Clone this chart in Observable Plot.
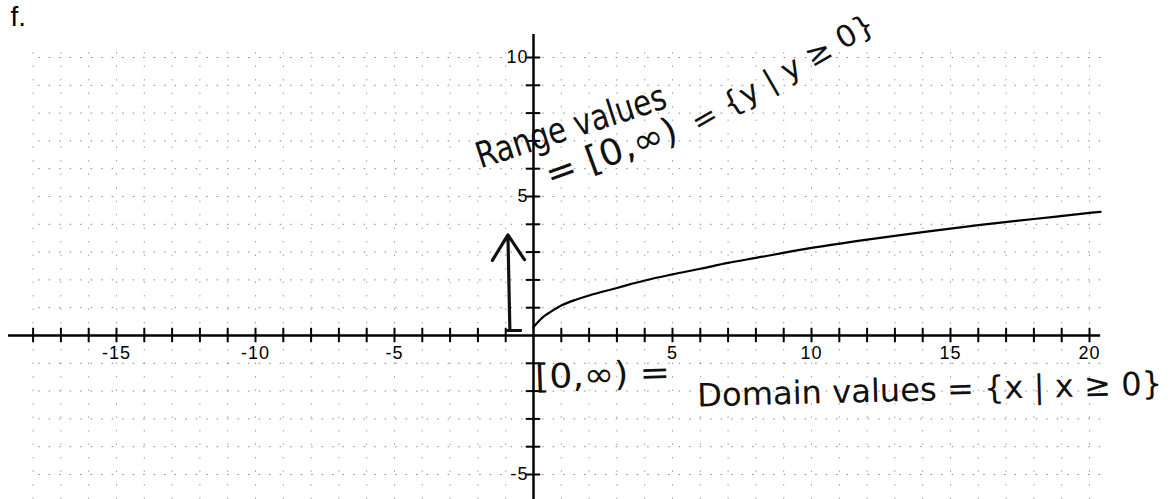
<!DOCTYPE html>
<html>
<head>
<meta charset="utf-8">
<script src="https://cdn.jsdelivr.net/npm/d3@7"></script>
<script src="https://cdn.jsdelivr.net/npm/@observablehq/plot@0.6"></script>
<style>
  html, body { margin: 0; padding: 0; background: #fff; }
  svg { display: block; }
  .ticklabel text { letter-spacing: 1px; }
</style>
</head>
<body>
<div id="chart"></div>
<script>
// ---- data ----
const curveX = [0, 0.12, 0.36, 0.6, 1, 1.5, 2, 3, 4, 5, 6, 7, 8, 10, 12, 14, 16, 18, 20, 20.4];
const curveY = [0.3, 0.44, 0.68, 0.84, 1.08, 1.28, 1.44, 1.71, 1.98, 2.2, 2.4, 2.61, 2.79, 3.15, 3.45, 3.72, 3.97, 4.19, 4.41, 4.45];

const xTicks = [-18,-17,-16,-15,-14,-13,-12,-11,-10,-9,-8,-7,-6,-5,-4,-3,-2,-1,1,2,3,4,5,6,7,8,9,10,11,12,13,14,15,16,17,18,19,20];
const yTicks = [-5,-4,-3,-2,-1,1,2,3,4,5,6,7,8,9,10];
const gridX = [-18,-17,-16,-15,-14,-13,-12,-11,-10,-9,-8,-7,-6,-5,-4,-3,-2,-1,0,1,2,3,4,5,6,7,8,9,10,11,12,13,14,15,16,17,18,19,20];
const gridY = [-6,-5,-4,-3,-2,-1,0,1,2,3,4,5,6,7,8,9,10];
const xLabels = [-15, -10, -5, 5, 10, 15, 20];
const yLabels = [10, 5, -5];

const panelLabel = "f.";
const rangeLine1 = "Range values";
const rangeLine2a = "= [0,\u221E)";
const rangeLine2b = "= {y | y \u2265 0}";
const domainLine1 = "[0,\u221E) =";
const domainLine2 = "Domain values = {x | x \u2265 0}";

const curve = curveX.map((x, i) => ({x, y: curveY[i]}));

// ---- layout ----
const W = 1175, H = 499;
const ox = 533, oy = 335, u = 27.8;        // pixel origin and pixels per unit
const px = p => (p - ox) / u;               // pixel -> data x
const py = p => (oy - p) / u;               // pixel -> data y

const hand = "DejaVu Sans";
const label = "Liberation Sans, Arial, sans-serif";

const plot = Plot.plot({
  width: W,
  height: H,
  margin: 0,
  style: {background: "#fff"},
  x: {domain: [px(0), px(W)], axis: null},
  y: {domain: [py(H), py(0)], axis: null},
  marks: [
    // dotted grid
    Plot.ruleY(gridY, {y: d => d, x1: -17.8, x2: 20.5, stroke: "#555", strokeWidth: 1, strokeDasharray: "1.5,9", strokeOpacity: 0.7}),
    Plot.ruleX(gridX, {x: d => d, y1: py(H), y2: 10.3, stroke: "#555", strokeWidth: 1, strokeDasharray: "1.5,12", strokeOpacity: 0.55}),
    // axes
    Plot.ruleY([0], {x1: px(8), x2: 20.4, stroke: "#000", strokeWidth: 2.5}),
    Plot.ruleX([0], {y1: py(H), y2: py(34), stroke: "#000", strokeWidth: 2.5}),
    // tick marks
    Plot.ruleX(xTicks, {x: d => d, y1: -0.26, y2: 0.26, stroke: "#000", strokeWidth: 2}),
    Plot.ruleY(yTicks, {y: d => d, x1: -0.26, x2: 0.26, stroke: "#000", strokeWidth: 2}),
    // tick labels
    Plot.text(xLabels, {x: d => d, y: 0, dy: 18, text: d => String(d), fontFamily: label, fontSize: 18, fill: "#000", className: "ticklabel"}),
    Plot.text(yLabels, {x: 0, y: d => d, dx: -5, textAnchor: "end", text: d => String(d), fontFamily: label, fontSize: 18, fill: "#000", className: "ticklabel"}),
    // the function curve
    Plot.line(curve, {x: "x", y: "y", stroke: "#000", strokeWidth: 2.2, curve: "catmull-rom"}),
    // hand-drawn arrow
    Plot.arrow([0], {x1: -0.85, y1: 0.2, x2: -0.92, y2: 3.62, stroke: "#111", strokeWidth: 3.2, headAngle: 65, headLength: 14}),
    Plot.ruleY([0.18], {x1: -1.0, x2: -0.4, stroke: "#111", strokeWidth: 3}),
    // hand-written annotations
    Plot.text([rangeLine1], {x: px(480), y: py(168), text: d => d, textAnchor: "start", lineAnchor: "bottom", rotate: -18, fontFamily: hand, fontSize: 36, fill: "#111"}),
    Plot.text([rangeLine2a], {x: px(550), y: py(187), text: d => d, textAnchor: "start", lineAnchor: "bottom", rotate: -20, fontFamily: hand, fontSize: 36, fill: "#111"}),
    Plot.text([rangeLine2b], {x: px(698), y: py(133), text: d => d, textAnchor: "start", lineAnchor: "bottom", rotate: -30, fontFamily: hand, fontSize: 30, fill: "#111"}),
    Plot.text([domainLine1], {x: px(535), y: py(388), text: d => d, textAnchor: "start", lineAnchor: "bottom", rotate: -2, fontFamily: hand, fontSize: 34, fill: "#111"}),
    Plot.text([domainLine2], {x: px(697), y: py(406), text: d => d, textAnchor: "start", lineAnchor: "bottom", rotate: -1.5, fontFamily: hand, fontSize: 32, fill: "#111"}),
    // panel label
    Plot.text([panelLabel], {frameAnchor: "top-left", dx: 10, dy: 6, lineAnchor: "top", text: d => d, textAnchor: "start", fontFamily: label, fontSize: 28, fill: "#000"})
  ]
});

// squeeze the hand-written lines to the widths seen in the picture
const widths = new Map([
  [rangeLine1, 198],
  [rangeLine2a, 138],
  [rangeLine2b, 206],
  [domainLine1, 135],
  [domainLine2, 465]
]);
plot.querySelectorAll("text").forEach(t => {
  const w = widths.get(t.textContent);
  if (w) {
    t.setAttribute("textLength", w);
    t.setAttribute("lengthAdjust", "spacingAndGlyphs");
  }
});

document.getElementById("chart").appendChild(plot);
</script>
</body>
</html>
